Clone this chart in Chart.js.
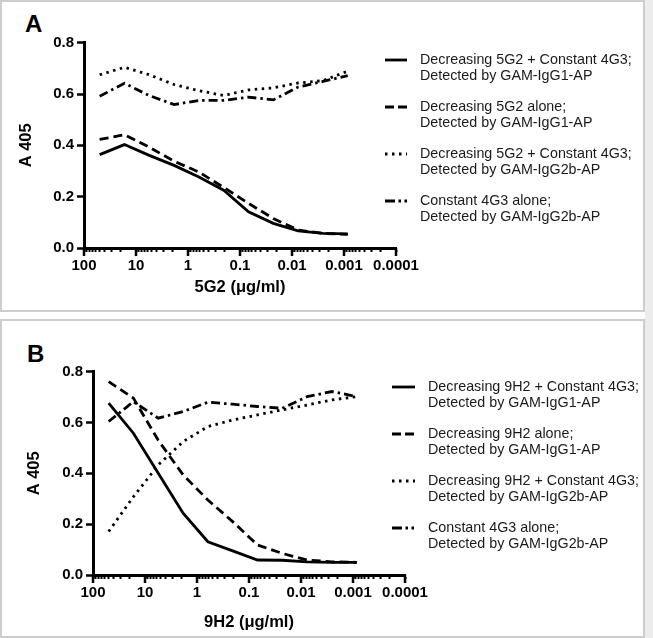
<!DOCTYPE html>
<html>
<head>
<meta charset="utf-8">
<script src="https://cdn.jsdelivr.net/npm/chart.js@4.4.1/dist/chart.umd.min.js"></script>
<style>
  html, body { margin: 0; padding: 0; background: #fff; }
  body { width: 653px; height: 638px; position: relative; overflow: hidden; font-family: Arial, "Liberation Sans", sans-serif; }
  .panel { position: absolute; left: 0; width: 641px; border: 2px solid #cdcdcd; box-sizing: content-box; }
  .strip { position: absolute; left: 645px; top: 0; width: 8px; height: 638px; background: #ececec; }
  .letter { position: absolute; font-weight: bold; font-size: 24px; color: #000; }
  canvas { position: absolute; left: 0; }
</style>
</head>
<body>
<div class="panel" style="top:0; height:308px;"></div>
<div class="panel" style="top:319px; height:315px;"></div>
<div class="strip"></div>
<div class="letter" style="left:25px; top:10px;">A</div>
<div class="letter" style="left:27px; top:340px;">B</div>
<canvas id="chartA" width="653" height="310" style="top:0;"></canvas>
<canvas id="chartB" width="653" height="318" style="top:320px;"></canvas>
<script>
// antibody concentrations (ug/ml), 3-fold dilution series
const concentrations = [50, 16.7, 5.56, 1.85, 0.617, 0.206, 0.0686, 0.0229, 0.00762, 0.00254, 0.000847];

// x axis decades and their labels
const xDecades = [100, 10, 1, 0.1, 0.01, 0.001, 0.0001];
const xTickLabels = ["100", "10", "1", "0.1", "0.01", "0.001", "0.0001"];
const yTickLabels = ["0.0", "0.2", "0.4", "0.6", "0.8"];

// panel A (5G2)
const solidA = [0.364, 0.403, 0.361, 0.322, 0.277, 0.225, 0.141, 0.096, 0.067, 0.057, 0.055];
const dashedA = [0.423, 0.441, 0.393, 0.338, 0.296, 0.236, 0.174, 0.115, 0.070, 0.057, 0.053];
const dottedA = [0.675, 0.704, 0.675, 0.637, 0.613, 0.594, 0.616, 0.624, 0.643, 0.652, 0.689];
const dashDotA = [0.591, 0.642, 0.594, 0.559, 0.575, 0.575, 0.588, 0.577, 0.627, 0.649, 0.672];
const labelsA = [
  ["Decreasing 5G2 + Constant 4G3;", "Detected by GAM-IgG1-AP"],
  ["Decreasing 5G2 alone;", "Detected by GAM-IgG1-AP"],
  ["Decreasing 5G2 + Constant 4G3;", "Detected by GAM-IgG2b-AP"],
  ["Constant 4G3 alone;", "Detected by GAM-IgG2b-AP"],
];

// panel B (9H2)
const solidB = [0.676, 0.558, 0.400, 0.243, 0.131, 0.095, 0.059, 0.058, 0.052, 0.050, 0.050];
const dashedB = [0.761, 0.696, 0.530, 0.394, 0.295, 0.210, 0.118, 0.085, 0.059, 0.052, 0.050];
const dottedB = [0.171, 0.308, 0.433, 0.525, 0.584, 0.610, 0.630, 0.650, 0.669, 0.689, 0.702];
const dashDotB = [0.604, 0.682, 0.617, 0.643, 0.680, 0.672, 0.663, 0.656, 0.702, 0.722, 0.702];
const labelsB = [
  ["Decreasing 9H2 + Constant 4G3;", "Detected by GAM-IgG1-AP"],
  ["Decreasing 9H2 alone;", "Detected by GAM-IgG1-AP"],
  ["Decreasing 9H2 + Constant 4G3;", "Detected by GAM-IgG2b-AP"],
  ["Constant 4G3 alone;", "Detected by GAM-IgG2b-AP"],
];

const FONT = "Arial, 'Liberation Sans', sans-serif";

// line styles: solid, dashed, dotted, dash-dot
const styles = [
  { dash: [], legendDash: [] },
  { dash: [9, 5], legendDash: [9, 4] },
  { dash: [2.5, 4.5], legendDash: [2.5, 4.5] },
  { dash: [9, 4, 2.5, 4], legendDash: [10, 3.5, 2.5, 3.5, 2.5, 20] },
];

const toPoints = (values) => values.map((v, i) => ({ x: concentrations[i], y: v }));

const makeDatasets = (seriesList, labels) =>
  seriesList.map((values, i) => ({
    label: labels[i].join(" "),
    legendLines: labels[i],
    legendDash: styles[i].legendDash,
    data: toPoints(values),
    showLine: true,
    borderColor: "#000",
    borderWidth: 2.8,
    borderDash: styles[i].dash,
    pointRadius: 0,
    tension: 0,
    fill: false,
  }));

// legend drawn to the right of the plot, two lines per entry
const sideLegend = {
  id: "sideLegend",
  afterDraw(chart, args, opts) {
    const { ctx } = chart;
    ctx.save();
    chart.data.datasets.forEach((ds, i) => {
      const y = opts.top + i * opts.gap;
      ctx.beginPath();
      ctx.setLineDash(ds.legendDash);
      ctx.lineWidth = 2.8;
      ctx.strokeStyle = "#000";
      ctx.moveTo(opts.x, y);
      ctx.lineTo(opts.x + opts.sample, y);
      ctx.stroke();
      ctx.setLineDash([]);
      ctx.fillStyle = "#1a1a1a";
      ctx.font = "14.3px " + FONT;
      ctx.textBaseline = "middle";
      ds.legendLines.forEach((t, j) => ctx.fillText(t, opts.x + opts.textGap, y + j * 16));
    });
    ctx.restore();
  },
};

// longer tick marks at each decade
const majorTicks = {
  id: "majorTicks",
  afterDraw(chart) {
    const { ctx } = chart;
    const xs = chart.scales.x;
    ctx.save();
    ctx.strokeStyle = "#000";
    ctx.lineWidth = 2.5;
    xs.ticks.forEach((t) => {
      if (!t.major) return;
      const px = Math.round(xs.getPixelForValue(t.value));
      ctx.beginPath();
      ctx.moveTo(px, xs.top);
      ctx.lineTo(px, xs.top + 8);
      ctx.stroke();
    });
    ctx.restore();
  },
};

function makeChart(id, datasets, xTitle, geo) {
  return new Chart(document.getElementById(id), {
    type: "scatter",
    data: { datasets },
    plugins: [sideLegend, majorTicks],
    options: {
      responsive: false,
      animation: false,
      layout: { padding: { left: 0, top: geo.top, right: geo.right, bottom: 0 } },
      plugins: {
        legend: { display: false },
        tooltip: { enabled: false },
        sideLegend: geo.legend,
      },
      scales: {
        x: {
          type: "logarithmic",
          reverse: true,
          min: 0.0001,
          max: 100,
          afterFit: (s) => { s.height = geo.xHeight; },
          afterBuildTicks: (s) => {
            const ticks = [];
            xDecades.forEach((d) => {
              ticks.push({ value: d, major: true });
              if (d < 100) {
                for (let m = 2; m <= 9; m++) ticks.push({ value: +(d * m).toPrecision(3), major: false });
              }
            });
            s.ticks = ticks.sort((a, b) => a.value - b.value);
          },
          border: { display: true, color: "#000", width: 3 },
          grid: { display: true, drawOnChartArea: false, drawTicks: true, tickLength: 4, tickWidth: 2, tickColor: "#000" },
          ticks: {
            autoSkip: false,
            maxRotation: 0,
            padding: 5,
            color: "#000",
            font: { family: FONT, size: 15, weight: "bold" },
            callback: (value) => {
              const i = xDecades.findIndex((d) => Math.abs(d - value) / d < 1e-6);
              return i >= 0 ? xTickLabels[i] : "";
            },
          },
          title: {
            display: true,
            text: xTitle,
            color: "#000",
            font: { family: FONT, size: 16.5, weight: "bold" },
            padding: { top: 0, bottom: geo.xTitlePad },
          },
        },
        y: {
          min: 0,
          max: 0.8,
          afterFit: (s) => { s.width = geo.yWidth; },
          border: { display: true, color: "#000", width: 3 },
          grid: { display: true, drawOnChartArea: false, drawTicks: true, tickLength: 7, tickWidth: 2.5, tickColor: "#000" },
          ticks: {
            stepSize: 0.2,
            padding: 3,
            color: "#000",
            font: { family: FONT, size: 15, weight: "bold" },
            callback: (value) => yTickLabels[Math.round(value / 0.2)],
          },
          title: {
            display: true,
            text: "A 405",
            color: "#000",
            font: { family: FONT, size: 16.5, weight: "bold" },
            padding: { top: geo.yTitlePad, bottom: 0 },
          },
        },
      },
    },
  });
}

makeChart("chartA", makeDatasets([solidA, dashedA, dottedA, dashDotA], labelsA), "5G2 (\u03bcg/ml)", {
  top: 42.7, right: 257, yWidth: 84, xHeight: 62, xTitlePad: 13, yTitlePad: 17,
  legend: { x: 385, sample: 22, textGap: 35, top: 60, gap: 47 },
});

makeChart("chartB", makeDatasets([solidB, dashedB, dottedB, dashDotB], labelsB), "9H2 (\u03bcg/ml)", {
  top: 51.7, right: 248, yWidth: 93, xHeight: 63, xTitlePad: 6, yTitlePad: 25,
  legend: { x: 392, sample: 23, textGap: 36, top: 67, gap: 47 },
});
</script>
</body>
</html>
